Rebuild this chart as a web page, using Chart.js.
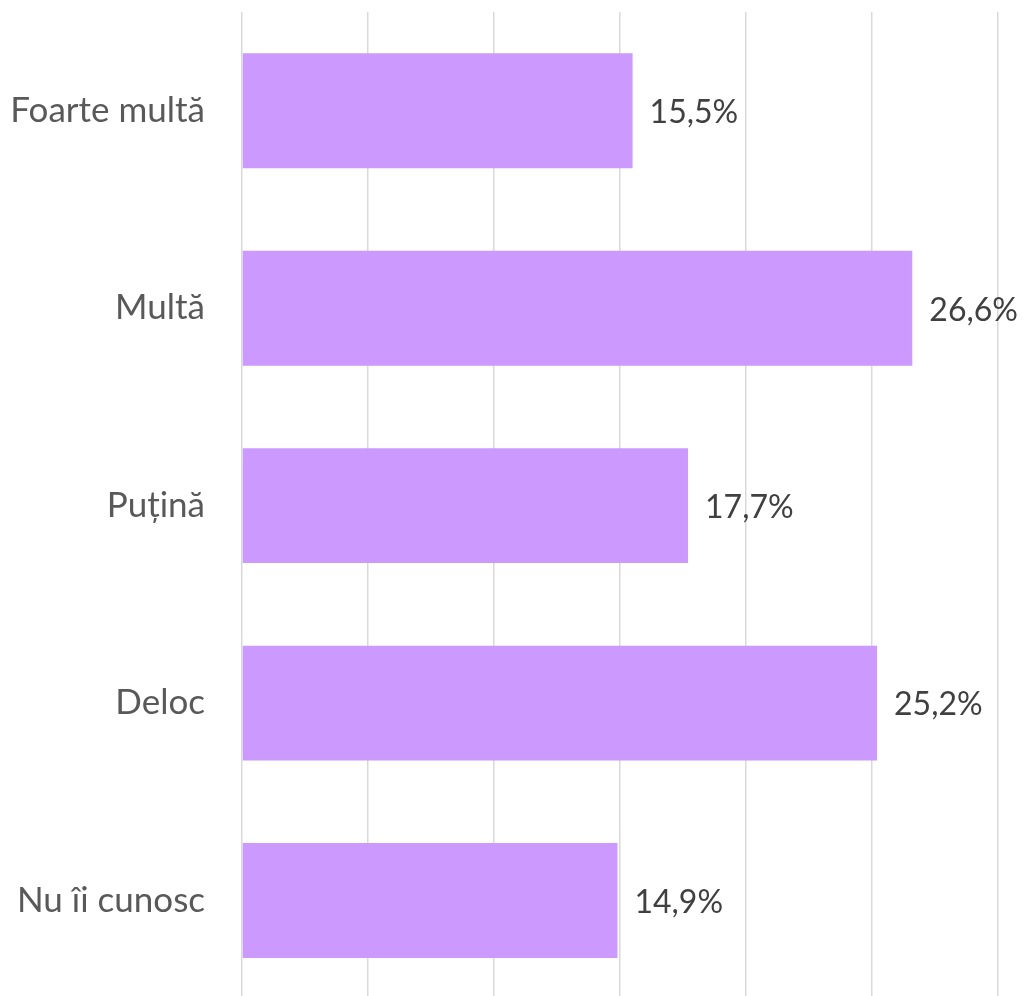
<!DOCTYPE html>
<html>
<head>
<meta charset="utf-8">
<script src="https://cdn.jsdelivr.net/npm/chart.js@4"></script>
<style>
  html, body { margin: 0; padding: 0; background: #ffffff; overflow: hidden; }
  #wrap { width: 1025px; height: 1000px; }
</style>
</head>
<body>
<div id="wrap"><canvas id="c" width="1025" height="1000"></canvas></div>
<script>
// Categories and percentages
const categories = ['Foarte multă', 'Multă', 'Puțină', 'Deloc', 'Nu îi cunosc'];
const values = [15.5, 26.6, 17.7, 25.2, 14.9];
const axisMax = 30;
const axisStep = 5;

const FONT = "Lato, 'Open Sans', 'DejaVu Sans', sans-serif";

// Draws the percentage label to the right of each bar
const valueLabels = {
  id: 'valueLabels',
  afterDatasetsDraw(chart) {
    const ctx = chart.ctx;
    const meta = chart.getDatasetMeta(0);
    ctx.save();
    ctx.font = '32px ' + FONT;
    ctx.fillStyle = '#404040';
    ctx.textAlign = 'left';
    ctx.textBaseline = 'middle';
    meta.data.forEach((bar, i) => {
      const txt = values[i].toFixed(1).replace('.', ',') + '%';
      ctx.fillText(txt, bar.x + 17, bar.y + 2);
    });
    ctx.restore();
  }
};

new Chart(document.getElementById('c'), {
  type: 'bar',
  data: {
    labels: categories,
    datasets: [{
      data: values,
      backgroundColor: '#cc99ff',
      borderWidth: 0,
      barPercentage: 0.582,
      categoryPercentage: 1.0
    }]
  },
  options: {
    indexAxis: 'y',
    responsive: false,
    animation: false,
    layout: { padding: { top: 12, right: 27, bottom: 0.7, left: 0 } },
    plugins: {
      legend: { display: false },
      tooltip: { enabled: false }
    },
    scales: {
      x: {
        min: 0,
        max: axisMax,
        ticks: { display: false, stepSize: axisStep },
        grid: { color: '#d9d9d9', lineWidth: 1.5, drawTicks: false },
        border: { display: false },
        afterFit(scale) { scale.height = 0; }
      },
      y: {
        ticks: {
          color: '#595959',
          font: { family: FONT, size: 35 },
          padding: 37
        },
        grid: { display: false, drawTicks: false },
        border: { display: false },
        afterFit(scale) {
          scale.width = 242;
          scale.paddingTop = 0;
          scale.paddingBottom = 0;
        }
      }
    }
  },
  plugins: [valueLabels]
});
</script>
</body>
</html>
